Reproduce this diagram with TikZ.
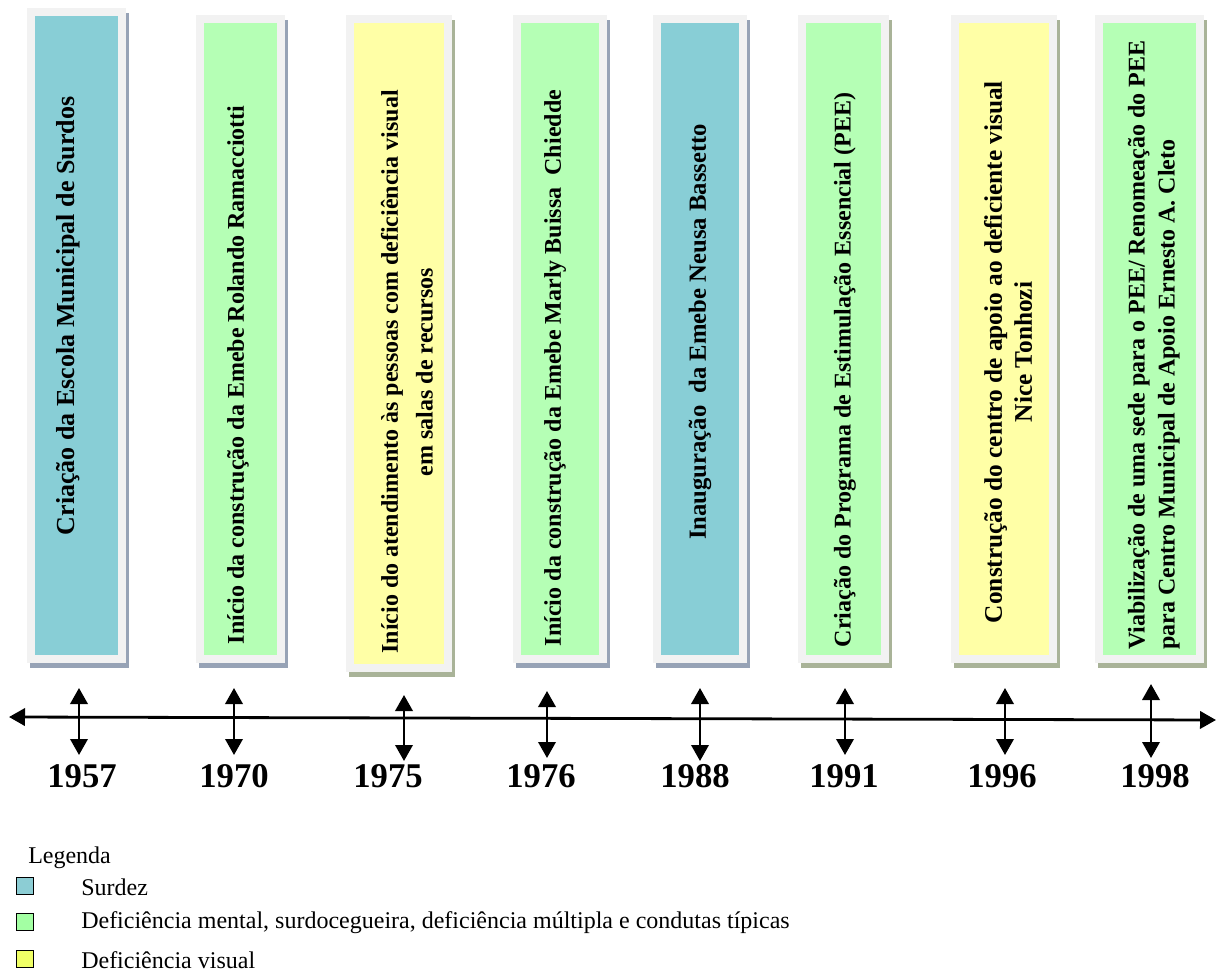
\documentclass[tikz,border=0pt]{standalone}
\usepackage{fontspec}
\setmainfont{Liberation Serif}
\usetikzlibrary{arrows.meta}
\definecolor{cBlue}{HTML}{88CED6}
\definecolor{cGreen}{HTML}{B5FFB5}
\definecolor{cYellow}{HTML}{FFFFA6}
\definecolor{cFrame}{HTML}{F2F2F2}
\definecolor{shBlue}{HTML}{97A3B6}
\definecolor{shGreen}{HTML}{A9B398}
\definecolor{lBlue}{HTML}{8CCDD4}
\definecolor{lGreen}{HTML}{A3FFA3}
\definecolor{lYellow}{HTML}{F0FF66}
\tikzset{
  boxtext/.style={rotate=90, font=\bfseries\fontsize{18}{22.5}\selectfont, inner sep=0pt},
  year/.style={font=\bfseries\fontsize{26}{30}\selectfont, inner sep=0pt},
  legtext/.style={font=\fontsize{18}{20}\selectfont, anchor=west, inner sep=0pt},
  legsq/.style={draw=black, line width=1.1pt, minimum width=12.5pt, minimum height=12.5pt, inner sep=0pt},
  axis/.style={line width=2.1pt, {Triangle[width=13pt,length=12pt]}-{Triangle[width=13pt,length=12pt]}},
  tick/.style={line width=1.9pt, {Triangle[width=13pt,length=12pt]}-{Triangle[width=13pt,length=12pt]}}
}
% #1 name, #2 left, #3 top, #4 right, #5 bottom, #6 fill, #7 shadow
\newcommand{\tlbox}[7]{%
  \fill[#7] (#2+3,#3+5) rectangle (#4+3,#5+5);
  \fill[cFrame] (#2,#3) rectangle (#4,#5);
  \node[fill=#6, inner sep=0pt, minimum width={(#4-#2-16)*0.75pt}, minimum height={(#5-#3-16)*0.75pt}] (#1) at ({(#2+#4)/2},{(#3+#5)/2}) {};
}
\begin{document}
\begin{tikzpicture}[x=0.75pt,y=-0.75pt]
\useasboundingbox (0,0) rectangle (1217,973);
% boxes
\tlbox{b1}{27}{8}{126}{663}{cBlue}{shBlue}
\tlbox{b2}{196}{15}{285}{663}{cGreen}{shBlue}
\tlbox{b3}{346}{15}{452}{672}{cYellow}{shGreen}
\tlbox{b4}{513}{15}{607}{663}{cGreen}{shBlue}
\tlbox{b5}{653}{15}{747}{663}{cBlue}{shBlue}
\tlbox{b6}{798}{15}{889}{663}{cGreen}{shGreen}
\tlbox{b7}{951}{15}{1057}{663}{cYellow}{shGreen}
\tlbox{b8}{1095}{15}{1204}{663}{cGreen}{shGreen}
% box texts
\node[boxtext, font=\bfseries\fontsize{19.5}{23}\selectfont] (t1) at (68,316) {Criação da Escola Municipal de Surdos};
\node[boxtext] (t2) at (238,375) {Início da construção da Emebe Rolando Ramacciotti};
\node[boxtext, align=center, font=\bfseries\fontsize{18}{26}\selectfont] (t3) at (407,372) {Início do atendimento às pessoas com deficiência visual\\em salas de recursos};
\node[boxtext] (t4) at (555,368) {Início da construção da Emebe Marly Buissa\ \ Chiedde};
\node[boxtext, font=\bfseries\fontsize{18.5}{22}\selectfont] (t5) at (700,332) {Inauguração\ \ da Emebe Neusa Bassetto};
\node[boxtext] (t6) at (845,370) {Criação do Programa de Estimulação Essencial (PEE)};
\node[boxtext, align=center, font=\bfseries\fontsize{19}{22.5}\selectfont] (t7) at (1008,352) {Construção do centro de apoio ao deficiente visual\\Nice Tonhozi};
\node[boxtext, align=left, anchor=south west] (t8) at (1180,650) {Viabilização de uma sede para o PEE/ Renomeação do PEE\\para Centro Municipal de Apoio Ernesto A. Cleto};
% axis
\coordinate (axL) at (9,717);
\coordinate (axR) at (1216,720);
\draw[axis] (axL) -- (axR);
% ticks
\foreach \n/\x/\t/\b in {1/79/688/755, 2/234/688/755, 3/404/695/761, 4/547/691/758, 5/700/688/761, 6/845/688/755, 7/1005/688/755, 8/1151/684/758}{
  \coordinate (k\n t) at (\x,\t);
  \coordinate (k\n b) at (\x,\b);
  \draw[tick] (k\n t) -- (k\n b);
}
% years
\node[year] (y1) at (82,776) {1957};
\node[year] (y2) at (234,776) {1970};
\node[year] (y3) at (388,776) {1975};
\node[year] (y4) at (541,776) {1976};
\node[year] (y5) at (695,776) {1988};
\node[year] (y6) at (844,776) {1991};
\node[year] (y7) at (1002,776) {1996};
\node[year] (y8) at (1155,776) {1998};
% legend
\node[legtext] (lg) at (28,858) {Legenda};
\node[legsq, fill=lBlue] (s1) at (25,886) {};
\node[legsq, fill=lGreen] (s2) at (25,922) {};
\node[legsq, fill=lYellow] (s3) at (25,959) {};
\node[legtext] (l1) at (81,887) {Surdez};
\node[legtext] (l2) at (81,923) {Deficiência mental, surdocegueira, deficiência múltipla e condutas típicas};
\node[legtext] (l3) at (81,960) {Deficiência visual};
\end{tikzpicture}
\end{document}
